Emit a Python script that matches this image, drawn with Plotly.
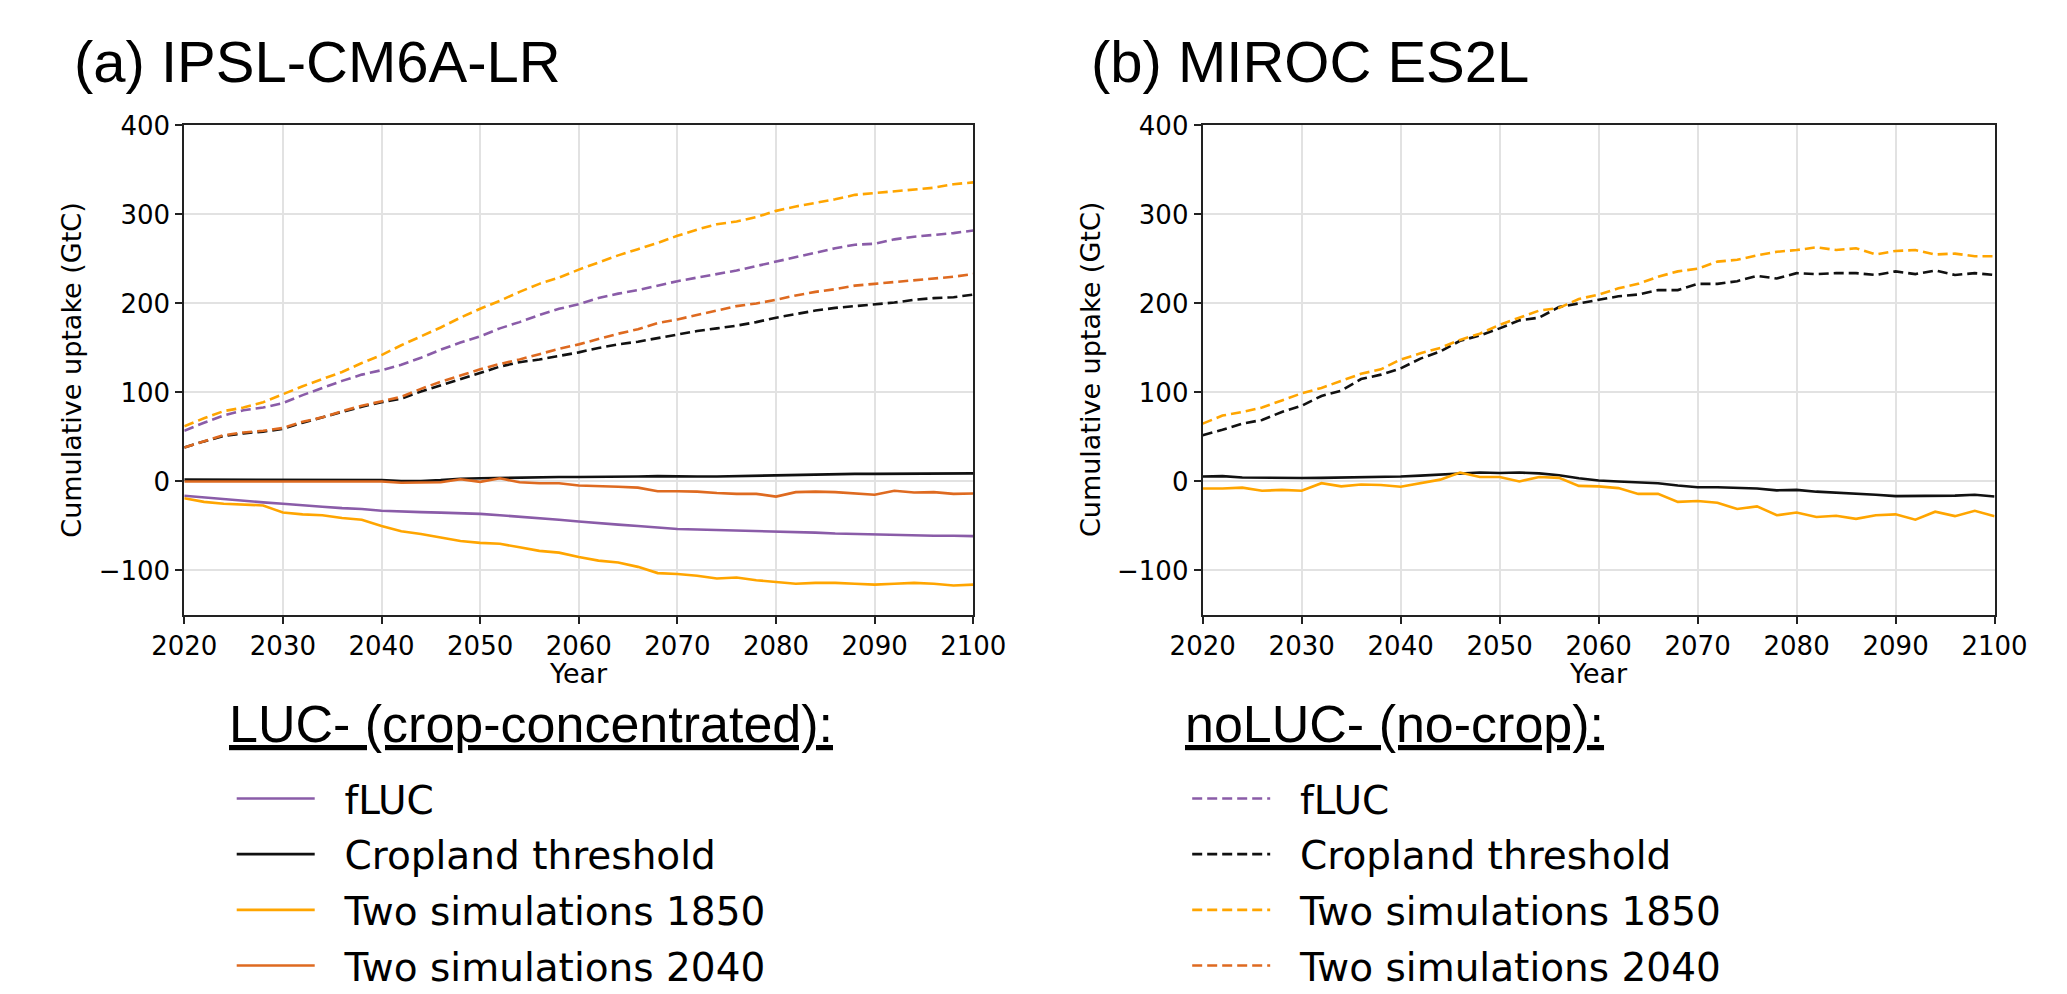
import plotly.graph_objects as go

YEARS = list(range(2020, 2101, 2))

# Panel (a) IPSL-CM6A-LR, LUC- (solid)
A_LUC_FLUC = [-16, -18, -20, -22, -23.5, -25, -27, -28.5, -30, -31,
              -33, -34, -34.5, -35, -35.5, -36.5, -38, -39.5, -41, -43,
              -45, -47, -48.5, -50, -52, -53.5, -54, -54.5, -55, -55.5,
              -56, -57, -57.5, -58.5, -59, -60, -60.5, -60.5, -61, -61, -61.5]
A_LUC_CROP = [2, 2, 2, 2, 2, 2, 2, 2, 2, 2,
              1.5, 0.5, 0.5, 1.5, 3, 3.5, 4, 4.5, 4.5, 5,
              5, 5, 5.5, 5.5, 6, 5.5, 5.5, 5.5, 6, 6.5,
              7, 7.5, 7.5, 8, 8.5, 8.5, 8.5, 9, 9, 9, 9]
A_LUC_1850 = [-19, -23, -25, -26, -27, -35, -37, -38, -41, -43,
              -50, -56, -59, -63, -67, -69, -70, -74, -78, -80,
              -85, -89, -91, -96, -103, -104, -106, -109, -108, -111,
              -113, -115, -114, -114, -115, -116, -115, -114, -115, -117, -116]
A_LUC_2040 = [0, 0, 0, 0, 0, 0, 0, 0, 0, 0,
              0, -1.5, -1, -1, 2.5, -0.5, 3.5, -1, -2, -2,
              -4.5, -5, -6, -7, -11, -11, -11.5, -13, -14, -14,
              -17, -12, -11.5, -12, -13.5, -15, -10.5, -12.5, -12, -14, -13.5]

# Panel (a) IPSL-CM6A-LR, noLUC- (dashed)
A_NOLUC_FLUC = [57, 66, 74, 80, 83, 88, 97, 105, 113, 120,
                125, 131, 139, 148, 156, 163, 172, 179, 187, 194,
                199, 206, 211, 215, 220, 225, 229, 233, 237, 242,
                247, 252, 257, 262, 266, 267, 272, 275, 277, 279, 282]
A_NOLUC_CROP = [38, 45, 51, 54, 56, 59, 66, 72, 78, 84,
                89, 93, 101, 108, 115, 122, 129, 134, 137, 141,
                145, 150, 154, 157, 161, 165, 169, 172, 175, 179,
                184, 188, 192, 195, 197, 199, 201, 204, 206, 207, 210]
A_NOLUC_1850 = [62, 71, 79, 83, 89, 98, 107, 115, 123, 133,
                142, 153, 163, 173, 184, 194, 203, 213, 222, 229,
                238, 246, 254, 261, 268, 276, 283, 289, 292, 297,
                304, 309, 313, 317, 322, 324, 326, 328, 330, 334, 336]
A_NOLUC_2040 = [38, 45, 52, 55, 57, 60, 67, 72, 79, 85,
                90, 95, 104, 112, 119, 126, 132, 137, 143, 149,
                154, 160, 166, 171, 178, 182, 187, 192, 197, 200,
                204, 209, 213, 216, 220, 222, 224, 226, 228, 230, 233]

# Panel (b) MIROC ES2L
B_LUC_CROP = [5.5, 6, 4.5, 4, 3.8, 3.8, 4, 4.2, 4.5, 5,
              5.5, 6.5, 7.5, 9, 10, 9.5, 10, 9, 7, 3.5,
              1, 0, -1, -2, -4.5, -6.5, -6.5, -7.5, -8, -10,
              -9.5, -11.5, -12.5, -14, -15, -16.5, -16.5, -16, -16, -15, -17]
B_LUC_1850 = [-8, -8, -7, -10.5, -9.5, -10.5, -2, -5.5, -3.5, -4,
              -6, -2, 2, 10, 5, 5, 0, 5, 4, -5,
              -5.5, -7.5, -14, -14, -23, -22, -24, -31, -28, -38,
              -35, -40, -38.5, -42, -38, -37, -43, -34, -39, -33, -39]
B_NOLUC_CROP = [52, 58, 65, 69, 78, 85, 96, 102, 115, 120,
                127, 138, 146, 158, 164, 172, 181, 184, 196, 200,
                204, 208, 210, 215, 215, 222, 222, 225, 231, 228,
                234, 233, 234, 234, 232, 236, 233, 237, 232, 234, 232]
B_NOLUC_1850 = [65, 74, 78, 83, 91, 99, 105, 113, 121, 126,
                137, 144, 150, 159, 166, 176, 184, 192, 195, 205,
                210, 217, 222, 230, 236, 239, 247, 249, 254, 258,
                260, 263, 260, 262, 255, 259, 260, 255, 256, 253, 253]

LABELS = ["fLUC", "Cropland threshold", "Two simulations 1850", "Two simulations 2040"]
COLORS = ["#8a5ca8", "#111111", "#ffa500", "#de6a20"]

TITLE_A = "(a) IPSL-CM6A-LR"
TITLE_B = "(b) MIROC ES2L"
YLABEL = "Cumulative uptake (GtC)"
XLABEL = "Year"
HEAD_LUC = "LUC- (crop-concentrated):"
HEAD_NOLUC = "noLUC- (no-crop):"

W, H = 2067, 994
LW = 2.6
DASH = "10px,5px"
PAD = "\u00a0\u00a0"  # gap between legend key and its text

fig = go.Figure()

a_luc = [A_LUC_FLUC, A_LUC_CROP, A_LUC_1850, A_LUC_2040]
a_noluc = [A_NOLUC_FLUC, A_NOLUC_CROP, A_NOLUC_1850, A_NOLUC_2040]

for i, (lab, col, ys) in enumerate(zip(LABELS, COLORS, a_luc)):
    fig.add_trace(go.Scatter(x=YEARS, y=ys, mode="lines", name=PAD + lab,
                             line=dict(color=col, width=LW),
                             xaxis="x", yaxis="y", legend="legend",
                             legendgroup="luc%d" % i))
for i, (lab, col, ys) in enumerate(zip(LABELS, COLORS, a_noluc)):
    fig.add_trace(go.Scatter(x=YEARS, y=ys, mode="lines", name=PAD + lab,
                             line=dict(color=col, width=LW, dash=DASH),
                             xaxis="x", yaxis="y", legend="legend2",
                             legendgroup="noluc%d" % i))

# panel b
fig.add_trace(go.Scatter(x=YEARS, y=B_LUC_CROP, mode="lines", showlegend=False,
                         line=dict(color=COLORS[1], width=LW), xaxis="x2", yaxis="y2"))
fig.add_trace(go.Scatter(x=YEARS, y=B_LUC_1850, mode="lines", showlegend=False,
                         line=dict(color=COLORS[2], width=LW), xaxis="x2", yaxis="y2"))
fig.add_trace(go.Scatter(x=YEARS, y=B_NOLUC_CROP, mode="lines", showlegend=False,
                         line=dict(color=COLORS[1], width=LW, dash=DASH), xaxis="x2", yaxis="y2"))
fig.add_trace(go.Scatter(x=YEARS, y=B_NOLUC_1850, mode="lines", showlegend=False,
                         line=dict(color=COLORS[2], width=LW, dash=DASH), xaxis="x2", yaxis="y2"))

tickfont = dict(family="DejaVu Sans", size=26, color="black")
axcommon = dict(showline=True, linecolor="#222", linewidth=2, mirror=True,
                ticks="outside", ticklen=7, tickwidth=1.5, tickcolor="#222",
                showgrid=True, gridcolor="#e2e2e2", gridwidth=1.5,
                zeroline=False, tickfont=tickfont)

legfont = dict(family="DejaVu Sans", size=39, color="black")
y0, y1 = 1 - 601 / H, 1 - 104 / H
fig.update_layout(
    width=W, height=H, autosize=False,
    margin=dict(l=0, r=0, t=0, b=0),
    paper_bgcolor="white", plot_bgcolor="white",
    xaxis=dict(domain=[148 / W, 963 / W], range=[2020, 2100], tickvals=list(range(2020, 2101, 10)),
               anchor="y", **axcommon),
    yaxis=dict(domain=[y0, y1], range=[-150, 400], tickvals=[-100, 0, 100, 200, 300, 400],
               anchor="x", **axcommon),
    xaxis2=dict(domain=[1200 / W, 2018 / W], range=[2020, 2100], tickvals=list(range(2020, 2101, 10)),
                anchor="y2", **axcommon),
    yaxis2=dict(domain=[y0, y1], range=[-150, 400], tickvals=[-100, 0, 100, 200, 300, 400],
                anchor="x2", **axcommon),
    legend=dict(x=197 / W, y=1 - 755 / H, xanchor="left", yanchor="top",
                font=legfont, bgcolor="rgba(0,0,0,0)", tracegroupgap=2, itemwidth=78),
    legend2=dict(x=1184 / W, y=1 - 755 / H, xanchor="left", yanchor="top",
                 font=legfont, bgcolor="rgba(0,0,0,0)", tracegroupgap=2, itemwidth=78),
    showlegend=True,
)

ann_font = dict(family="DejaVu Sans", size=27, color="black")
title_font = dict(family="Liberation Sans, Arial", size=58, color="black")
head_font = dict(family="Liberation Sans, Arial", size=52, color="black")
ymid = 1 - 352 / H
fig.add_annotation(text=TITLE_A, x=32 / W, y=1 - 39 / H, xref="paper", yref="paper",
                   xanchor="left", yanchor="middle", showarrow=False, font=title_font)
fig.add_annotation(text=TITLE_B, x=1083 / W, y=1 - 39 / H, xref="paper", yref="paper",
                   xanchor="left", yanchor="middle", showarrow=False, font=title_font)
fig.add_annotation(text=YLABEL, x=32 / W, y=ymid, xref="paper", yref="paper", textangle=-90,
                   xanchor="center", yanchor="middle", showarrow=False, font=ann_font)
fig.add_annotation(text=YLABEL, x=1084 / W, y=ymid, xref="paper", yref="paper", textangle=-90,
                   xanchor="center", yanchor="middle", showarrow=False, font=ann_font)
fig.add_annotation(text=XLABEL, x=(148 + 963) / 2 / W, y=1 - 660 / H, xref="paper", yref="paper",
                   xanchor="center", yanchor="middle", showarrow=False, font=ann_font)
fig.add_annotation(text=XLABEL, x=(1200 + 2018) / 2 / W, y=1 - 660 / H, xref="paper", yref="paper",
                   xanchor="center", yanchor="middle", showarrow=False, font=ann_font)
fig.add_annotation(text="<u>" + HEAD_LUC + "</u>", x=192 / W, y=1 - 712 / H, xref="paper", yref="paper",
                   xanchor="left", yanchor="middle", showarrow=False, font=head_font)
fig.add_annotation(text="<u>" + HEAD_NOLUC + "</u>", x=1180 / W, y=1 - 712 / H, xref="paper", yref="paper",
                   xanchor="left", yanchor="middle", showarrow=False, font=head_font)

fig.write_html("out.html")
